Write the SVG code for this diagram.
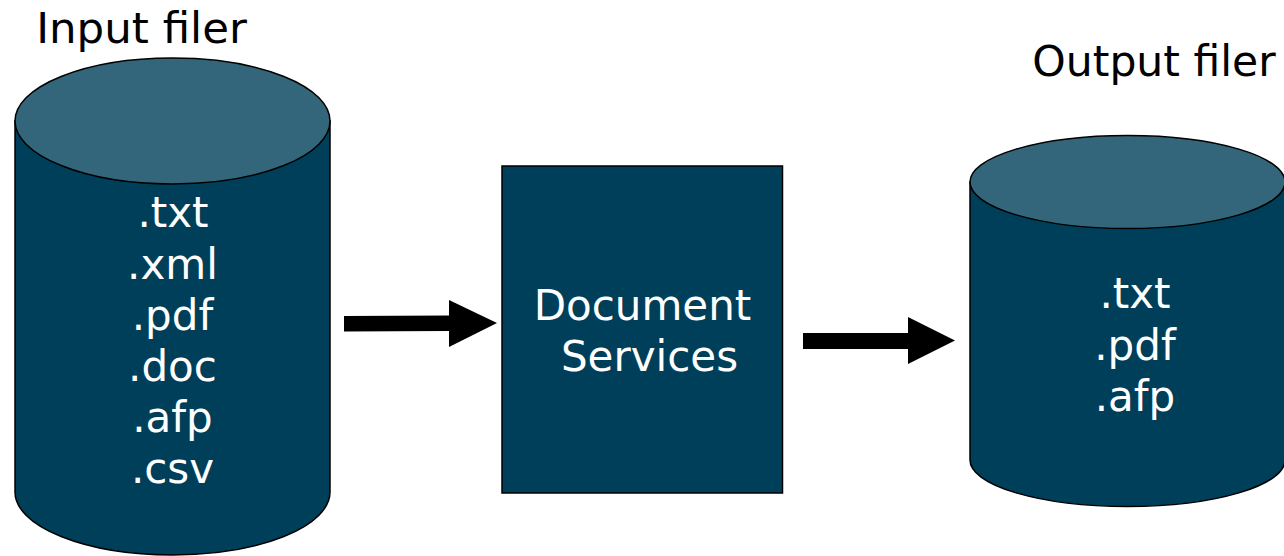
<svg xmlns="http://www.w3.org/2000/svg" width="1284" height="556" viewBox="0 0 1284 556">
<style>
text{font-family:"DejaVu Sans",Verdana,sans-serif;font-size:42px;text-anchor:middle}
.w{fill:#fff}
.k{fill:#000}
.body{fill:#003f5a;stroke:#000;stroke-width:1.5}
.top{fill:#33657b;stroke:#000;stroke-width:1.5}
</style>
<rect width="1284" height="556" fill="#fff"/>
<g id="input-label"><text class="k" x="141.500" y="43" style="font-size:43.500px">Input filer</text></g>
<g id="output-label"><text class="k" x="1154" y="76" style="font-size:42.500px">Output filer</text></g>
<g id="input-filer">
<path class="body" d="M15 121V492A157.500 63 0 0 0 330 492V121Z"/>
<ellipse class="top" cx="172.500" cy="121" rx="157.500" ry="63"/>
<text class="w" x="173" y="227">.txt</text>
<text class="w" x="172.500" y="279">.xml</text>
<text class="w" x="172.500" y="330">.pdf</text>
<text class="w" x="172.500" y="381">.doc</text>
<text class="w" x="172.500" y="432">.afp</text>
<text class="w" x="172.500" y="483">.csv</text>
</g>
<g id="document-services">
<rect class="body" x="502" y="166" width="280.500" height="327"/>
<text class="w" x="642.500" y="320">Document</text>
<text class="w" x="649.500" y="371">Services</text>
</g>
<g id="output-filer">
<path class="body" d="M970 182V460A157.500 46.500 0 0 0 1285 460V182Z"/>
<ellipse class="top" cx="1127.500" cy="182" rx="157.500" ry="46.500"/>
<text class="w" x="1135" y="308">.txt</text>
<text class="w" x="1135" y="360">.pdf</text>
<text class="w" x="1135" y="411">.afp</text>
</g>
<g id="connectors">
<polygon points="344,316 449,315.500 449,300 497,323 449,347 449,331 344,331.500"/>
<polygon points="803,333 908,333 908,317 955,340.500 908,364 908,349 803,349"/>
</g>
</svg>
